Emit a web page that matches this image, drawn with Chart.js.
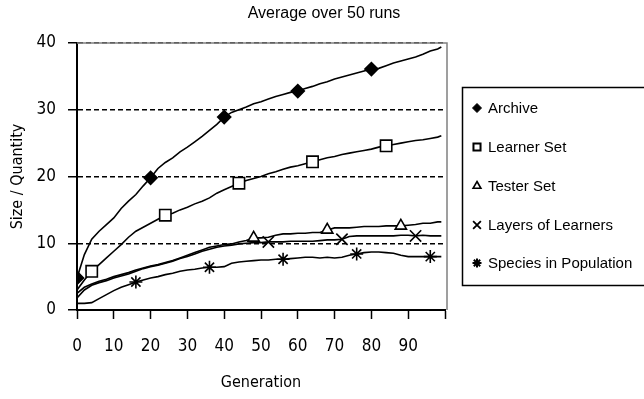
<!DOCTYPE html>
<html>
<head>
<meta charset="utf-8">
<script src="https://cdn.jsdelivr.net/npm/chart.js@4.4.1/dist/chart.umd.min.js"></script>
<style>
    html, body { margin: 0; padding: 0; background: #fff; }
</style>
</head>
<body>
<canvas id="myChart" width="644" height="399"></canvas>
<script>
    // generations sampled every 2 (plus the last one)
    let gens = [0,2,4,6,8,10,12,14,16,18,20,22,24,26,28,30,32,34,36,38,40,42,44,46,48,50,
        52,54,56,58,60,62,64,66,68,70,72,74,76,78,80,82,84,86,88,90,92,94,96,98,99];

    let archive = [4.8,8.3,10.6,11.8,12.8,13.8,15.2,16.3,17.3,18.6,19.8,21.2,22.1,22.8,23.7,24.4,
        25.2,26.0,26.9,27.8,28.9,29.6,30.0,30.4,30.9,31.2,31.6,32.0,32.3,32.6,32.8,33.2,33.5,33.9,
        34.2,34.6,34.9,35.2,35.5,35.8,36.1,36.2,36.6,37.0,37.3,37.6,37.9,38.3,38.8,39.1,39.4];
    let learnerSet = [3.0,4.5,5.8,6.8,7.8,8.8,9.8,10.9,11.8,12.4,13.0,13.6,14.2,14.5,15.0,15.4,
        15.9,16.3,16.8,17.5,18.0,18.5,19.0,19.4,19.7,20.0,20.4,20.7,21.1,21.4,21.6,21.9,22.2,22.5,
        22.8,23.0,23.3,23.5,23.7,23.9,24.1,24.4,24.6,24.8,25.0,25.2,25.4,25.5,25.7,25.9,26.1];
    let testerSet = [2.5,3.4,3.9,4.3,4.6,5.0,5.3,5.6,6.0,6.3,6.6,6.8,7.1,7.4,7.8,8.2,8.6,9.0,9.4,
        9.6,9.8,9.9,10.2,10.4,10.8,10.8,10.9,11.2,11.4,11.4,11.5,11.5,11.6,11.6,12.0,12.3,12.3,12.3,
        12.4,12.5,12.5,12.5,12.6,12.6,12.6,12.7,12.8,13.0,13.0,13.2,13.2];
    let layers = [1.8,3.0,3.7,4.1,4.4,4.8,5.1,5.4,5.8,6.2,6.5,6.7,7.0,7.3,7.7,8.0,8.4,8.8,9.1,9.4,
        9.6,9.7,9.9,10.0,10.1,10.1,10.2,10.2,10.2,10.3,10.3,10.3,10.3,10.4,10.5,10.5,10.6,11.0,11.1,
        11.1,11.1,11.1,11.1,11.1,11.2,11.2,11.1,11.2,11.1,11.1,11.1];
    let species = [1.0,1.0,1.1,1.7,2.3,2.9,3.4,3.8,4.2,4.5,4.8,5.0,5.3,5.5,5.8,6.0,6.1,6.3,6.4,6.4,
        6.5,7.0,7.2,7.3,7.4,7.5,7.5,7.6,7.6,7.7,7.8,7.9,7.9,7.8,7.9,7.8,7.9,8.2,8.4,8.6,8.7,8.7,8.6,
        8.5,8.2,8.0,8.0,8.0,8.0,8.0,8.0];

    // generations where a marker is shown
    let archiveMarks = [0,20,40,60,80];
    let learnerMarks = [4,24,44,64,84];
    let testerMarks = [48,68,88];
    let layersMarks = [52,72,92];
    let speciesMarks = [16,36,56,76,96];

    let seriesNames = ["Archive","Learner Set","Tester Set","Layers of Learners","Species in Population"];
    let yTicks = [0,10,20,30,40];
    let xTicks = [0,10,20,30,40,50,60,70,80,90];
    let chartTitle = "Average over 50 runs";

    let narrow = "'Liberation Sans Narrow', 'DejaVu Sans Condensed', 'Roboto Condensed', sans-serif";
    let arial = "'Liberation Sans', Arial, sans-serif";

    function points(values){
        return values.map((v,i) => ({x: gens[i], y: v}));
    }
    function markerRadius(marks, r){
        return ctx => marks.includes(gens[ctx.dataIndex]) ? r : 0;
    }
    function makeSet(label, values, marks, style, r, fill){
        return {
            label: label,
            data: points(values),
            borderColor: "#000",
            borderWidth: 1.6,
            tension: 0,
            pointStyle: style,
            pointRadius: markerRadius(marks, r),
            pointHoverRadius: 0,
            pointBackgroundColor: fill,
            pointBorderColor: "#000",
            pointBorderWidth: 1.6
        };
    }

    // title, legend box and plot border
    const decor = {
        id: "decor",
        beforeDatasetsDraw(chart){
            let ctx = chart.ctx, a = chart.chartArea;
            ctx.save();
            ctx.strokeStyle = "#808080";
            ctx.lineWidth = 1.5;
            ctx.beginPath();
            ctx.moveTo(a.left, a.top);
            ctx.lineTo(a.right + 2, a.top);
            ctx.lineTo(a.right + 2, a.bottom);
            ctx.stroke();
            ctx.restore();
        },
        afterDraw(chart){
            let ctx = chart.ctx;
            ctx.save();
            ctx.fillStyle = "#000";
            ctx.font = "16px " + arial;
            ctx.textAlign = "center";
            ctx.textBaseline = "middle";
            ctx.fillText(chartTitle, 324, 14);

            ctx.strokeStyle = "#000";
            ctx.lineWidth = 1.5;
            ctx.strokeRect(462.5, 87.5, 200, 198);

            let styles = [
                {pointStyle: "rectRot", radius: 4.5, fill: "#000", bw: 1},
                {pointStyle: "rect", radius: 5, fill: "#fff", bw: 2},
                {pointStyle: "triangle", radius: 4.5, fill: "#fff", bw: 1.6},
                {pointStyle: "crossRot", radius: 5.5, fill: "#000", bw: 1.8},
                {pointStyle: "star", radius: 4.5, fill: "#000", bw: 2}
            ];
            let rowY = [108, 147, 186, 225, 263];
            ctx.textAlign = "left";
            ctx.font = "15px " + arial;
            seriesNames.forEach((name, i) => {
                let s = styles[i];
                ctx.fillStyle = s.fill;
                ctx.strokeStyle = "#000";
                ctx.lineWidth = s.bw;
                Chart.helpers.drawPoint(ctx, {pointStyle: s.pointStyle, radius: s.radius, rotation: 0, borderWidth: s.bw}, 477, rowY[i]);
                ctx.fillStyle = "#000";
                ctx.fillText(name, 488, rowY[i] + 1);
            });
            ctx.restore();
        }
    };

    const ctx = document.getElementById("myChart").getContext("2d");
    const myChart = new Chart(ctx, {
        type: "line",
        data: {
            datasets: [
                makeSet(seriesNames[0], archive, archiveMarks, "rectRot", 6.5, "#000"),
                makeSet(seriesNames[1], learnerSet, learnerMarks, "rect", 8, "#fff"),
                makeSet(seriesNames[2], testerSet, testerMarks, "triangle", 6.5, "#fff"),
                makeSet(seriesNames[3], layers, layersMarks, "crossRot", 8, "#000"),
                makeSet(seriesNames[4], species, speciesMarks, "star", 6.5, "#000")
            ]
        },
        plugins: [decor],
        options: {
            responsive: false,
            animation: false,
            layout: { padding: { top: 43, right: 199, left: 0, bottom: 0 } },
            plugins: {
                legend: { display: false },
                title: { display: false },
                tooltip: { enabled: false }
            },
            scales: {
                x: {
                    type: "linear",
                    min: 0,
                    max: 100,
                    afterFit: s => { s.height = 89; },
                    afterBuildTicks: s => {
                        s.ticks = xTicks.concat([100]).map(v => ({value: v}));
                    },
                    ticks: {
                        autoSkip: false,
                        maxRotation: 0,
                        padding: 17,
                        color: "#000",
                        font: { family: narrow, size: 17 },
                        callback: v => xTicks.includes(v) ? String(v) : ""
                    },
                    grid: {
                        drawOnChartArea: false,
                        tickLength: 9,
                        tickColor: "#000",
                        tickWidth: 1.5
                    },
                    border: { display: true, color: "#000", width: 2 },
                    title: {
                        display: true,
                        text: "Generation",
                        color: "#000",
                        font: { family: narrow, size: 16 },
                        padding: { top: 0, bottom: 7 }
                    }
                },
                y: {
                    min: 0,
                    max: 40,
                    afterFit: s => { s.width = 77; },
                    afterBuildTicks: s => {
                        s.ticks = yTicks.map(v => ({value: v}));
                    },
                    ticks: {
                        padding: 12,
                        color: "#000",
                        font: { family: narrow, size: 17 }
                    },
                    grid: {
                        color: "#000",
                        lineWidth: 1.5,
                        tickLength: 9,
                        tickColor: "#000",
                        tickWidth: 1.5,
                        tickBorderDash: []
                    },
                    border: { display: true, color: "#000", width: 2, dash: [5, 3] },
                    title: {
                        display: true,
                        text: "Size / Quantity",
                        color: "#000",
                        font: { family: narrow, size: 16 },
                        padding: { top: 8, bottom: 0 }
                    }
                }
            }
        }
    });
</script>
</body>
</html>
